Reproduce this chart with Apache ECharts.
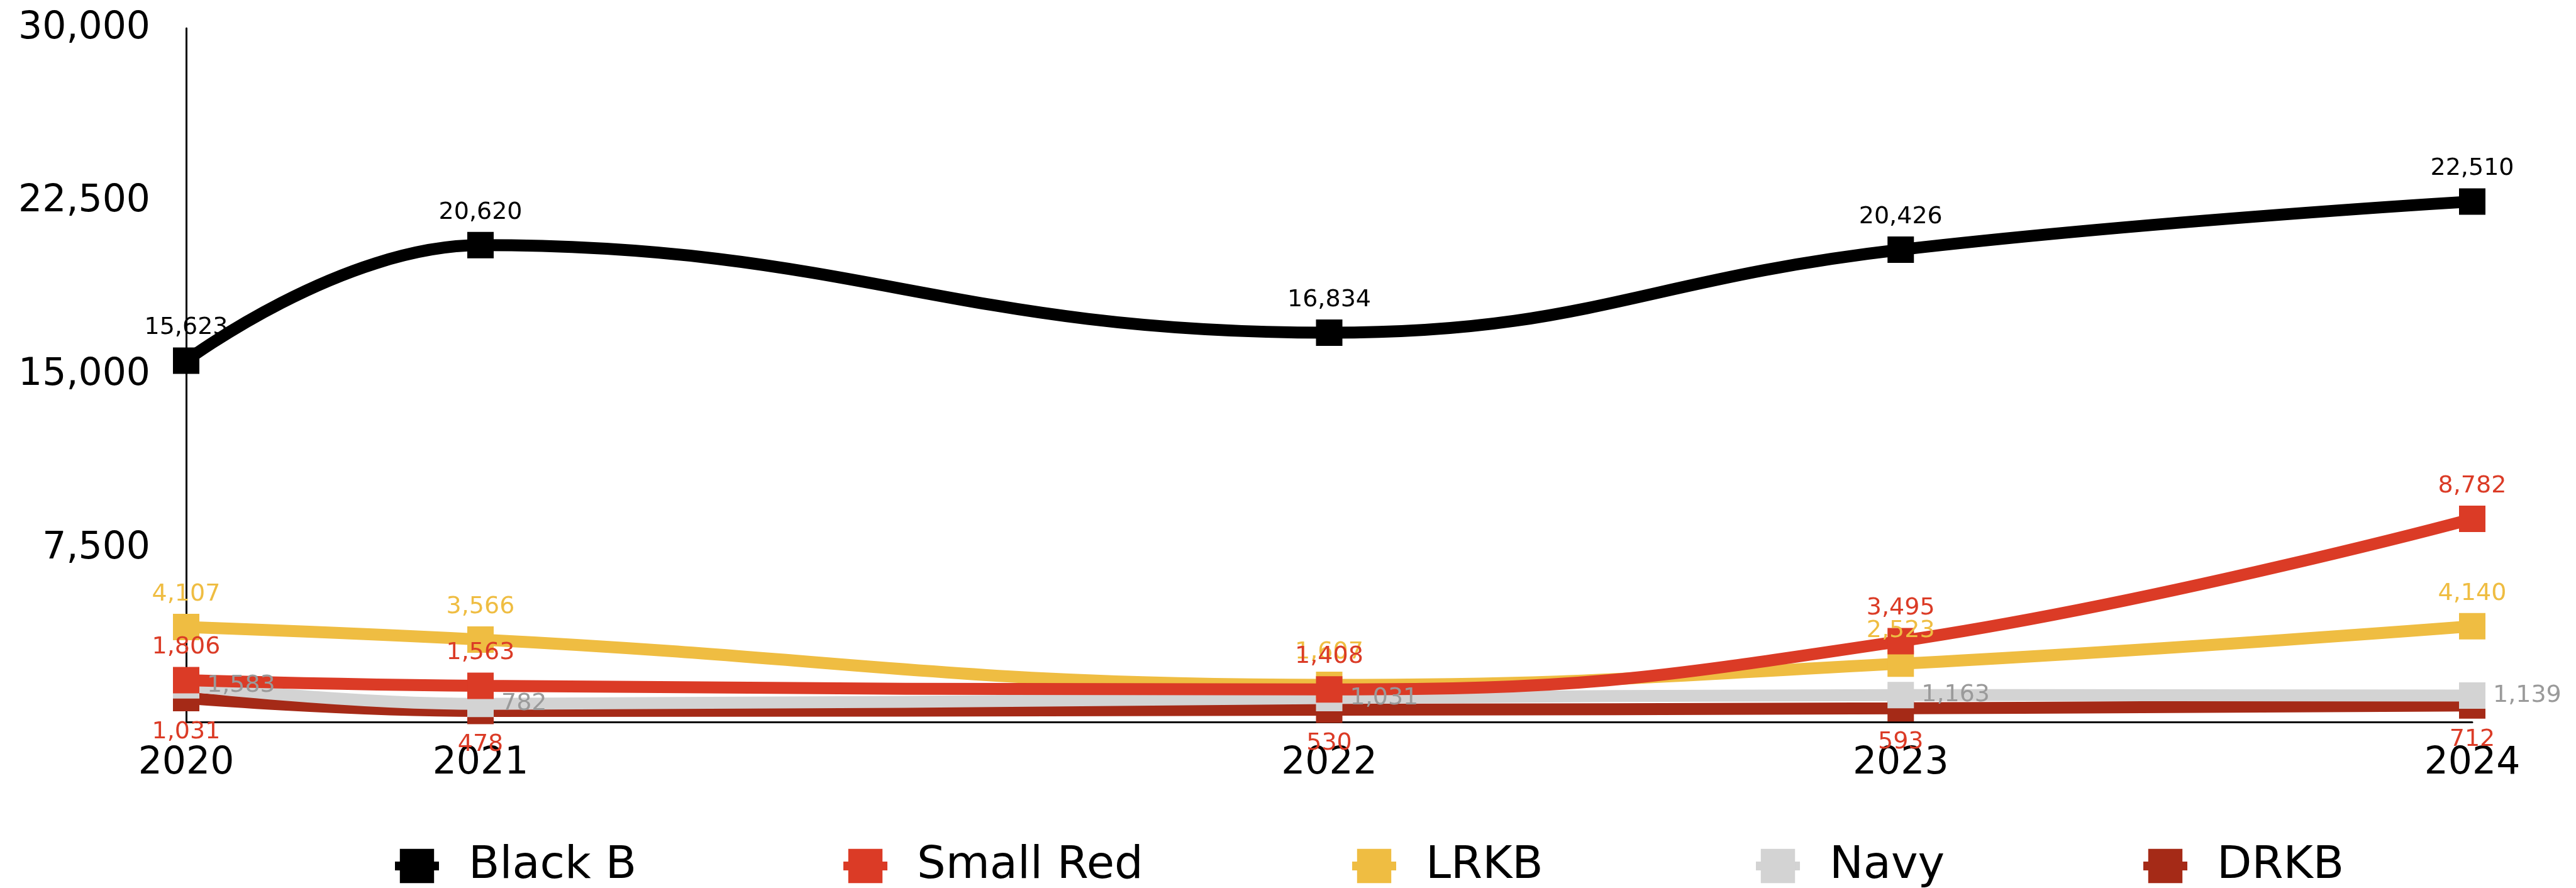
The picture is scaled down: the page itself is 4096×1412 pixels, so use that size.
<!DOCTYPE html>
<html>
<head>
<meta charset="utf-8">
<script src="https://cdn.jsdelivr.net/npm/echarts@6/dist/echarts.min.js"></script>
<style>
  html, body { margin: 0; padding: 0; background: #ffffff; }
  #chart { width: 4096px; height: 1412px; }
</style>
</head>
<body>
<div id="chart"></div>
<script>
// Yearly volumes per variety
const years = ['2020', '2021', '2022', '2023', '2024'];
// position of each reading along the time axis (years after the first reading)
const xPos = [0, 0.515, 2, 3, 4];
const blackB   = [15623, 20620, 16834, 20426, 22510];
const smallRed = [1806, 1563, 1408, 3495, 8782];
const lrkb     = [4107, 3566, 1607, 2523, 4140];
const navy     = [1583, 782, 1031, 1163, 1139];
const drkb     = [1031, 478, 530, 593, 712];

// Value axis range and step
const yMin = 0;
const yMax = 30000;
const yStep = 7500;

const FONT = "'DejaVu Sans', sans-serif";
const fmt = new Intl.NumberFormat('en-US');

// Styling for each variety (first entry is drawn on top)
const lines = [
  { name: 'Black B',   data: blackB,   color: '#000000', labelColor: '#000000', labelPos: 'top',    dist: 12 },
  { name: 'Small Red', data: smallRed, color: '#DB3B26', labelColor: '#DB3B26', labelPos: 'top',    dist: 12 },
  { name: 'LRKB',      data: lrkb,     color: '#EFBD42', labelColor: '#EFBD42', labelPos: 'top',    dist: 12 },
  { name: 'Navy',      data: navy,     color: '#D3D3D3', labelColor: '#9A9A9A', labelPos: 'right',  dist: 12 },
  { name: 'DRKB',      data: drkb,     color: '#A52A17', labelColor: '#DB3B26', labelPos: 'bottom', dist: 14 }
];

const legendLeft = [616, 1329, 2138, 2780, 3396];

const pairs = vals => vals.map((v, k) => [xPos[k], v]);

const series = [];
lines.forEach((s, i) => {
  // the line with its square markers
  series.push({
    name: s.name,
    type: 'line',
    data: pairs(s.data),
    smooth: 0.45,
    z: 10 - i,
    silent: true,
    symbol: 'rect',
    symbolSize: 42,
    showAllSymbol: true,
    lineStyle: { color: s.color, width: 19 },
    itemStyle: { color: s.color, borderWidth: 0 },
    label: { show: false },
    emphasis: { disabled: true }
  });
});
lines.forEach((s, i) => {
  // value labels, kept above every line
  series.push({
    name: s.name + ' values',
    type: 'line',
    data: pairs(s.data),
    z: 30 - i,
    silent: true,
    symbol: 'rect',
    symbolSize: 42,
    showAllSymbol: true,
    lineStyle: { width: 0, opacity: 0 },
    itemStyle: { color: 'rgba(0,0,0,0)', borderWidth: 0 },
    label: {
      show: true,
      position: s.labelPos,
      distance: s.dist,
      color: s.labelColor,
      fontFamily: FONT,
      fontSize: 38,
      formatter: p => fmt.format(p.value[1])
    },
    emphasis: { disabled: true }
  });
});

const chart = echarts.init(document.getElementById('chart'), null, { renderer: 'canvas' });
chart.setOption({
  animation: false,
  backgroundColor: '#ffffff',
  textStyle: { fontFamily: FONT },
  grid: { left: 296, right: 165, top: 45, bottom: 264, outerBoundsMode: 'none' },
  legend: lines.map((s, i) => ({
    data: [s.name],
    left: legendLeft[i],
    top: 1336,
    itemWidth: 70,
    itemHeight: 68,
    lineStyle: { width: 14 },
    selectedMode: false,
    textStyle: { fontFamily: FONT, fontSize: 72, color: '#000000', padding: [0, 0, 0, 42] }
  })),
  xAxis: {
    type: 'value',
    min: xPos[0],
    max: xPos[xPos.length - 1],
    axisLine: { show: true, onZero: false, lineStyle: { color: '#000000', width: 3 } },
    axisTick: { show: false },
    splitLine: { show: false },
    axisLabel: {
      fontFamily: FONT,
      fontSize: 60,
      color: '#000000',
      margin: 36,
      customValues: xPos,
      formatter: v => years[xPos.indexOf(v)]
    }
  },
  yAxis: {
    type: 'value',
    min: yMin,
    max: yMax,
    interval: yStep,
    axisLine: { show: true, onZero: false, lineStyle: { color: '#000000', width: 3 } },
    axisTick: { show: false },
    splitLine: { show: false },
    axisLabel: {
      fontFamily: FONT,
      fontSize: 60,
      color: '#000000',
      margin: 57,
      showMinLabel: false,
      formatter: v => fmt.format(v)
    }
  },
  series: series
});
</script>
</body>
</html>
